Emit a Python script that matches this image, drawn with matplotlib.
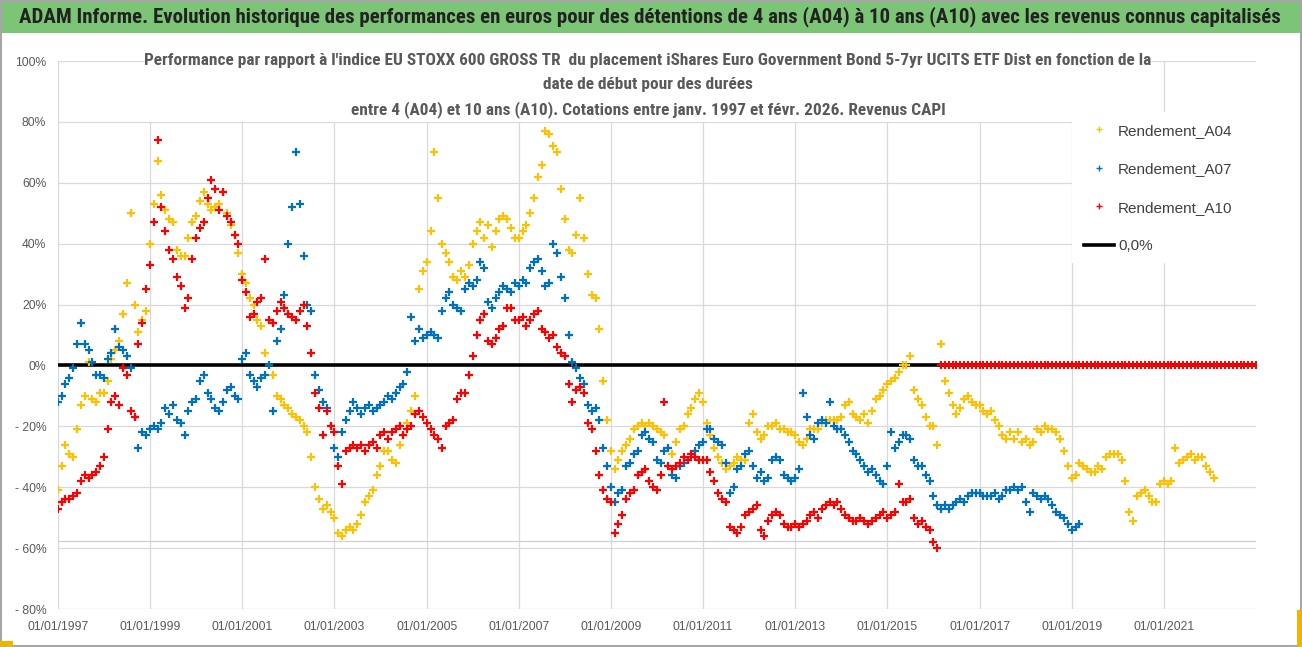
import datetime as dt
import pandas as pd
import matplotlib
matplotlib.use("Agg")
import matplotlib.pyplot as plt
from matplotlib.patches import Rectangle
from matplotlib.lines import Line2D
from matplotlib import font_manager

# --- data (monthly readings, % vs EU STOXX 600) ---
a04 = [
    -41, -33, -26, -29, -30, -21, -13, -10, 1, -11, -12, -9,      # 1997
    -9, -5, 2, 5, 8, 17, 27, 50, 20, 11, 15, 18,                   # 1998
    40, 53, 67, 56, 51, 48, 47, 38, 36, 36, 42, 47,                # 1999
    49, 54, 57, 53, 51, 52, 53, 57, 50, 46, 43, 37,                # 2000
    30, 27, 22, 20, 15, 13, 4, 0, -3, -10, -11, -13,               # 2001
    -14, -16, -17, -18, -20, -22, -30, -40, -44, -47, -46, -48,    # 2002
    -50, -55, -56, -54, -53, -54, -52, -49, -45, -43, -41, -36,    # 2003
    -33, -28, -28, -31, -32, -26, -23, -19, -15, -10, 25, 31,      # 2004
    34, 44, 70, 55, 40, 37, 34, 29, 28, 31, 29, 33,                # 2005
    40, 44, 47, 42, 46, 39, 44, 48, 49, 48, 45, 42,                # 2006
    42, 44, 46, 50, 55, 62, 66, 77, 76, 72, 70, 58,                # 2007
    48, 38, 37, 43, 55, 42, 30, 23, 22, 12, -5, -18,               # 2008
    -28, -34, -31, -28, -26, -24, -21, -20, -19, -20, -19, -20,    # 2009
    -21, -22, -23, -27, -29, -25, -21, -20, -16, -14, -11, -9,     # 2010
    -12, -19, -23, -27, -30, -32, -34, -33, -32, -30, -31, -31,    # 2011
    -19, -16, -22, -24, -23, -20, -20, -19, -21, -21, -22, -22,    # 2012
    -23, -25, -26, -24, -21, -21, -21, -19, -18, -18, -18, -18,    # 2013
    -17, -13, -12, -16, -17, -18, -16, -19, -15, -11, -10, -8,     # 2014
    -6, -5, -4, -2, 0, 0, 3, -8, -11, -13, -17, -20,               # 2015
    -20, -26, 7, -5, -9, -13, -16, -14, -11, -10, -12, -13,        # 2016
    -13, -15, -16, -15, -18, -20, -23, -24, -22, -24, -22, -25,    # 2017
    -24, -26, -25, -21, -22, -20, -21, -21, -22, -24, -28, -33,    # 2018
    -37, -36, -32, -33, -34, -35, -35, -33, -34, -30, -29, -29,    # 2019
    -29, -31, -38, -48, -51, -43, -42, -41, -43, -45, -45, -39,    # 2020
    -38, -39, -38, -27, -32, -31, -30, -29, -31, -30, -30, -33,    # 2021
    -35, -37,                                                      # 2022
]

a07 = [
    -12, -10, -6, -4, -1, 7, 14, 7, 5, 1, -3, -3,                  # 1997
    -4, 2, 4, 12, 6, 5, 3, -1, -17, -27, -22, -23,                 # 1998
    -21, -20, -21, -19, -14, -16, -13, -18, -19, -23, -15, -12,    # 1999
    -11, -5, -3, -9, -11, -14, -15, -12, -8, -7, -10, -11,         # 2000
    2, 4, -3, -5, -7, -4, -3, 0, -15, 8, 12, 23,                   # 2001
    40, 52, 70, 53, 36, 20, 18, -3, -8, -12, -14, -20,             # 2002
    -27, -30, -22, -18, -15, -12, -14, -16, -14, -13, -15, -14,    # 2003
    -13, -12, -10, -11, -9, -7, -6, -2, 16, 8, 12, 9,              # 2004
    10, 11, 10, 9, 18, 22, 24, 20, 19, 18, 25, 27,                 # 2005
    26, 28, 34, 32, 21, 19, 22, 24, 26, 25, 24, 27,                # 2006
    26, 28, 27, 32, 34, 35, 31, 26, 27, 40, 37, 29,                # 2007
    22, 10, 1, -1, -4, -6, -13, -15, -14, -18, -27, -33,           # 2008
    -40, -45, -42, -41, -33, -32, -29, -28, -23, -22, -24, -25,    # 2009
    -31, -32, -28, -27, -36, -37, -33, -32, -31, -30, -28, -26,    # 2010
    -25, -21, -21, -24, -25, -26, -32, -42, -40, -34, -33, -29,    # 2011
    -28, -33, -37, -35, -38, -37, -31, -30, -31, -36, -37, -38,    # 2012
    -37, -34, -9, -17, -23, -24, -19, -18, -19, -12, -20, -21,     # 2013
    -21, -23, -25, -28, -29, -31, -33, -35, -34, -36, -38, -39,    # 2014
    -33, -22, -27, -25, -23, -23, -24, -31, -33, -33, -36, -38,    # 2015
    -43, -46, -47, -46, -47, -46, -45, -44, -45, -43, -42, -42,    # 2016
    -42, -43, -43, -43, -42, -44, -43, -41, -41, -40, -41, -40,    # 2017
    -45, -48, -42, -43, -44, -43, -44, -46, -48, -49, -50, -52,    # 2018
    -54, -53, -52,                                                 # 2019
]

a10 = [
    -47, -45, -44, -44, -43, -42, -38, -36, -37, -36, -35, -33,    # 1997
    -30, -21, -12, -10, -13, -1, -3, -15, -17, 7, 14, 25,          # 1998
    33, 47, 74, 52, 44, 38, 35, 29, 26, 19, 22, 35,                # 1999
    42, 45, 47, 55, 61, 58, 51, 57, 49, 47, 43, 40,                # 2000
    28, 24, 16, 17, 21, 22, 35, 15, 14, 18, 21, 19,                # 2001
    17, 16, 15, 18, 20, 13, 4, -9, -14, -23, -15, -20,             # 2002
    -22, -33, -39, -28, -27, -26, -27, -26, -28, -26, -25, -27,    # 2003
    -23, -22, -24, -22, -21, -20, -23, -21, -20, -16, -15, -17,    # 2004
    -19, -21, -23, -24, -27, -20, -19, -18, -11, -9, -9, -3,       # 2005
    3, 10, 15, 17, 8, 7, 9, 12, 13, 19, 19, 15,                    # 2006
    15, 16, 13, 15, 17, 18, 12, 11, 9, 10, 6, 4,                   # 2007
    3, -6, -12, -8, -7, -9, -19, -21, -28, -36, -41, -44,          # 2008
    -45, -55, -52, -49, -44, -42, -41, -36, -35, -34, -38, -40,    # 2009
    -41, -36, -12, -33, -34, -33, -32, -30, -31, -29, -30, -31,    # 2010
    -31, -31, -35, -38, -42, -44, -45, -53, -54, -55, -53, -49,    # 2011
    -48, -47, -46, -54, -56, -51, -49, -48, -49, -52, -53, -53,    # 2012
    -52, -53, -52, -51, -49, -48, -50, -47, -46, -45, -46, -45,    # 2013
    -47, -49, -50, -51, -51, -50, -51, -52, -51, -50, -49, -48,    # 2014
    -50, -49, -48, -39, -45, -45, -44, -50, -52, -51, -53, -54,    # 2015
    -58, -60, 0, 0, 0, 0, 0, 0, 0, 0, 0, 0,                        # 2016
    0, 0, 0, 0, 0, 0, 0, 0, 0, 0, 0, 0,                            # 2017
    0, 0, 0, 0, 0, 0, 0, 0, 0, 0, 0, 0,                            # 2018
    0, 0, 0, 0, 0, 0, 0, 0, 0, 0, 0, 0,                            # 2019
    0, 0, 0, 0, 0, 0, 0, 0, 0, 0, 0, 0,                            # 2020
    0, 0, 0, 0, 0, 0, 0, 0, 0, 0, 0, 0,                            # 2021
    0, 0, 0, 0, 0, 0, 0, 0, 0, 0, 0, 0,                            # 2022
    0,                                                             # 2023
]

labels = ["Rendement_A04", "Rendement_A07", "Rendement_A10", "0,0%"]
colors = ["#FFC000", "#0070C0", "#FF0000"]
tick_years = list(range(1997, 2022, 2))
yticks = list(range(-80, 101, 20))

banner = ("ADAM Informe. Evolution historique des performances en euros pour des "
          "détentions de 4 ans (A04) à 10 ans (A10) avec les revenus connus capitalisés")
title1 = ("Performance par rapport à l'indice EU STOXX 600 GROSS TR  du placement iShares "
          "Euro Government Bond 5-7yr UCITS ETF Dist en fonction de la")
title2 = "date de début pour des durées"
title3 = "entre 4 (A04) et 10 ans (A10). Cotations entre janv. 1997 et févr. 2026. Revenus CAPI"

d04 = pd.date_range("1997-01-01", periods=len(a04), freq="MS")
d07 = pd.date_range("1997-01-01", periods=len(a07), freq="MS")
d10 = pd.date_range("1997-01-01", periods=len(a10), freq="MS")

# pick a condensed family for the titles if one is installed
have = {f.name for f in font_manager.fontManager.ttflist}
narrow = [f for f in ["Liberation Sans Narrow", "DejaVu Sans Condensed", "Roboto Condensed",
                      "Open Sans Condensed"] if f in have] + ["DejaVu Sans"]
regular = ["Liberation Sans", "DejaVu Sans"]

# --- figure ---
W, H = 1302, 647
fig = plt.figure(figsize=(W / 100, H / 100), dpi=100)
fig.patch.set_facecolor("white")

ax = fig.add_axes([58 / W, 1 - 609 / H, (1256 - 58) / W, (609 - 61) / H])
ax.set_xlim(dt.datetime(1997, 1, 1), dt.datetime(2023, 1, 1))
ax.set_ylim(-80, 100)
ax.set_xticks([dt.datetime(y, 1, 1) for y in tick_years])
ax.set_xticklabels([f"01/01/{y}" for y in tick_years])
ax.set_yticks(yticks)
ax.set_yticklabels([f"{v}%" if v >= 0 else f"- {abs(v)}%" for v in yticks])
for s in ax.spines.values():
    s.set_visible(False)
ax.tick_params(length=0, labelsize=8.7, labelcolor="#595959")
ax.tick_params(axis="y", pad=8.5)
ax.tick_params(axis="x", pad=9)
for lab in ax.get_xticklabels() + ax.get_yticklabels():
    lab.set_family(regular)
ax.set_axisbelow(True)
ax.grid(True, color="#D9D9D9", lw=0.9)
ax.axhline(-57.6, color="#D0D0D0", lw=0.9, zorder=0.6)

# white boxes behind title and legend (hide gridlines like the original)
ax.add_patch(Rectangle((0.0726, 0.8887), 0.8389, 0.14, transform=ax.transAxes,
                       facecolor="white", edgecolor="none", zorder=1, clip_on=False))
ax.add_patch(Rectangle((0.8464, 0.6314), 0.16, 0.2756, transform=ax.transAxes,
                       facecolor="white", edgecolor="none", zorder=1, clip_on=False))

ax.axhline(0, color="black", lw=2.6, zorder=2)
mk = dict(linestyle="none", marker="+", markersize=5.6, markeredgewidth=1.6)
ax.plot(d04, a04, color=colors[0], zorder=3, **mk)
ax.plot(d07, a07, color=colors[1], zorder=4, **mk)
ax.plot(d10, a10, color=colors[2], zorder=5, **mk)

handles = [Line2D([], [], linestyle="none", marker="+", markersize=4, markeredgewidth=1,
                  color=c) for c in colors]
handles.append(Line2D([], [], color="black", lw=2.6))
leg = ax.legend(handles, labels, loc="upper left", bbox_to_anchor=(1076 / W, 1 - 116 / H),
                bbox_transform=fig.transFigure, frameon=False, fontsize=11,
                labelspacing=1.6, handlelength=2.0, handletextpad=0.25, borderpad=0)
for t in leg.get_texts():
    t.set_color("#404040")
    t.set_family(regular)

# --- banner and titles ---
fig.patches.append(Rectangle((0, 1 - 33 / H), 1, 33 / H, transform=fig.transFigure,
                             facecolor="#7CC576", edgecolor="none", zorder=0))
fig.patches.append(Rectangle((0.001, 0.002), 0.998, 0.997, transform=fig.transFigure,
                             facecolor="none", edgecolor="#A6A6A6", lw=1.5, zorder=10))
fig.patches.append(Rectangle((0, 0), 13 / W, 6 / H, transform=fig.transFigure,
                             facecolor="#F0B400", edgecolor="none", zorder=11))
fig.patches.append(Rectangle((1 - 5 / W, 0), 5 / W, 37 / H, transform=fig.transFigure,
                             facecolor="#F0B400", edgecolor="none", zorder=11))

tb = fig.text(650 / W, 1 - 17 / H, banner, ha="center", va="center", fontsize=14,
              fontweight="bold", color="#222222", family=narrow)
t1 = fig.text(648 / W, 1 - 60 / H, title1, ha="center", va="center", fontsize=11,
              fontweight="bold", color="#595959", family=narrow)
t2 = fig.text(648 / W, 1 - 85 / H, title2, ha="center", va="center", fontsize=11,
              fontweight="bold", color="#595959", family=narrow)
t3 = fig.text(648 / W, 1 - 110 / H, title3, ha="center", va="center", fontsize=11,
              fontweight="bold", color="#595959", family=narrow)

# scale font sizes so the text widths match the original
fig.canvas.draw()
r = fig.canvas.get_renderer()
k = 1266 / tb.get_window_extent(r).width
tb.set_fontsize(tb.get_fontsize() * k)
k = 1000 / t1.get_window_extent(r).width
for t in (t1, t2, t3):
    t.set_fontsize(t.get_fontsize() * k)

fig.savefig("out.png", dpi=100)
